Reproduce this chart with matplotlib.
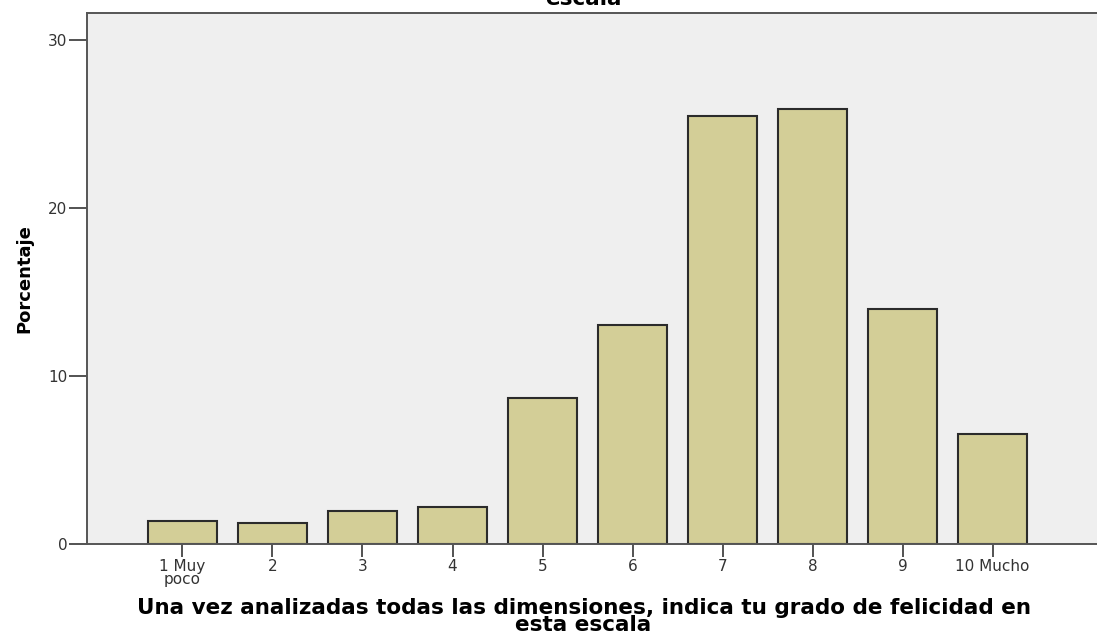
import matplotlib.pyplot as plt
import numpy as np

# Percentages per answer on the 1-10 happiness scale
categories = ['1 Muy\npoco', '2', '3', '4', '5', '6', '7', '8', '9', '10 Mucho']
percentages = [1.35, 1.27, 1.98, 2.18, 8.67, 13.04, 25.48, 25.87, 13.99, 6.53]
y_ticks = [0, 10, 20, 30]

bar_color = '#D3CE97'
edge_color = '#2b2b2b'
panel_color = '#EFEFEF'
text_color = '#333333'

fig = plt.figure(figsize=(10.97, 6.44), dpi=100)
# axes run off the right edge of the figure
ax = fig.add_axes([87 / 1097, 100 / 644, 1020 / 1097, 531 / 644])
ax.set_facecolor(panel_color)

x = np.arange(1, len(categories) + 1)
ax.bar(x, percentages, width=0.76, color=bar_color, edgecolor=edge_color,
       linewidth=1.5, zorder=2)

ax.set_xlim(-0.06, 11.27)
ax.set_ylim(0, 31.6)
ax.set_xticks(x)
ax.set_xticklabels(categories, fontsize=11, color=text_color, linespacing=0.8)
ax.set_yticks(y_ticks)
ax.set_yticklabels([str(t) for t in y_ticks], fontsize=11, color=text_color)
ax.tick_params(axis='y', length=13, width=1.3, color='#444444', pad=1)
ax.tick_params(axis='x', length=9, width=1.3, color='#444444', pad=2)

for side in ['left', 'bottom', 'top']:
    ax.spines[side].set_color('#555555')
    ax.spines[side].set_linewidth(1.4)
ax.spines['right'].set_visible(False)

ax.set_ylabel('Porcentaje', fontsize=13, fontweight='bold', labelpad=11)

# x axis title, two lines under the tick labels
fig.text(0.532, 1 - 598 / 644,
         'Una vez analizadas todas las dimensiones, indica tu grado de felicidad en\nesta escala',
         ha='center', va='top', fontsize=15.5, fontweight='bold', linespacing=0.83)
# last line of the chart title, clipped at the top of the figure
fig.text(0.532, 1 - 5 / 644, 'escala', ha='center', va='baseline',
         fontsize=15.5, fontweight='bold')

fig.savefig('out.png', dpi=100)
